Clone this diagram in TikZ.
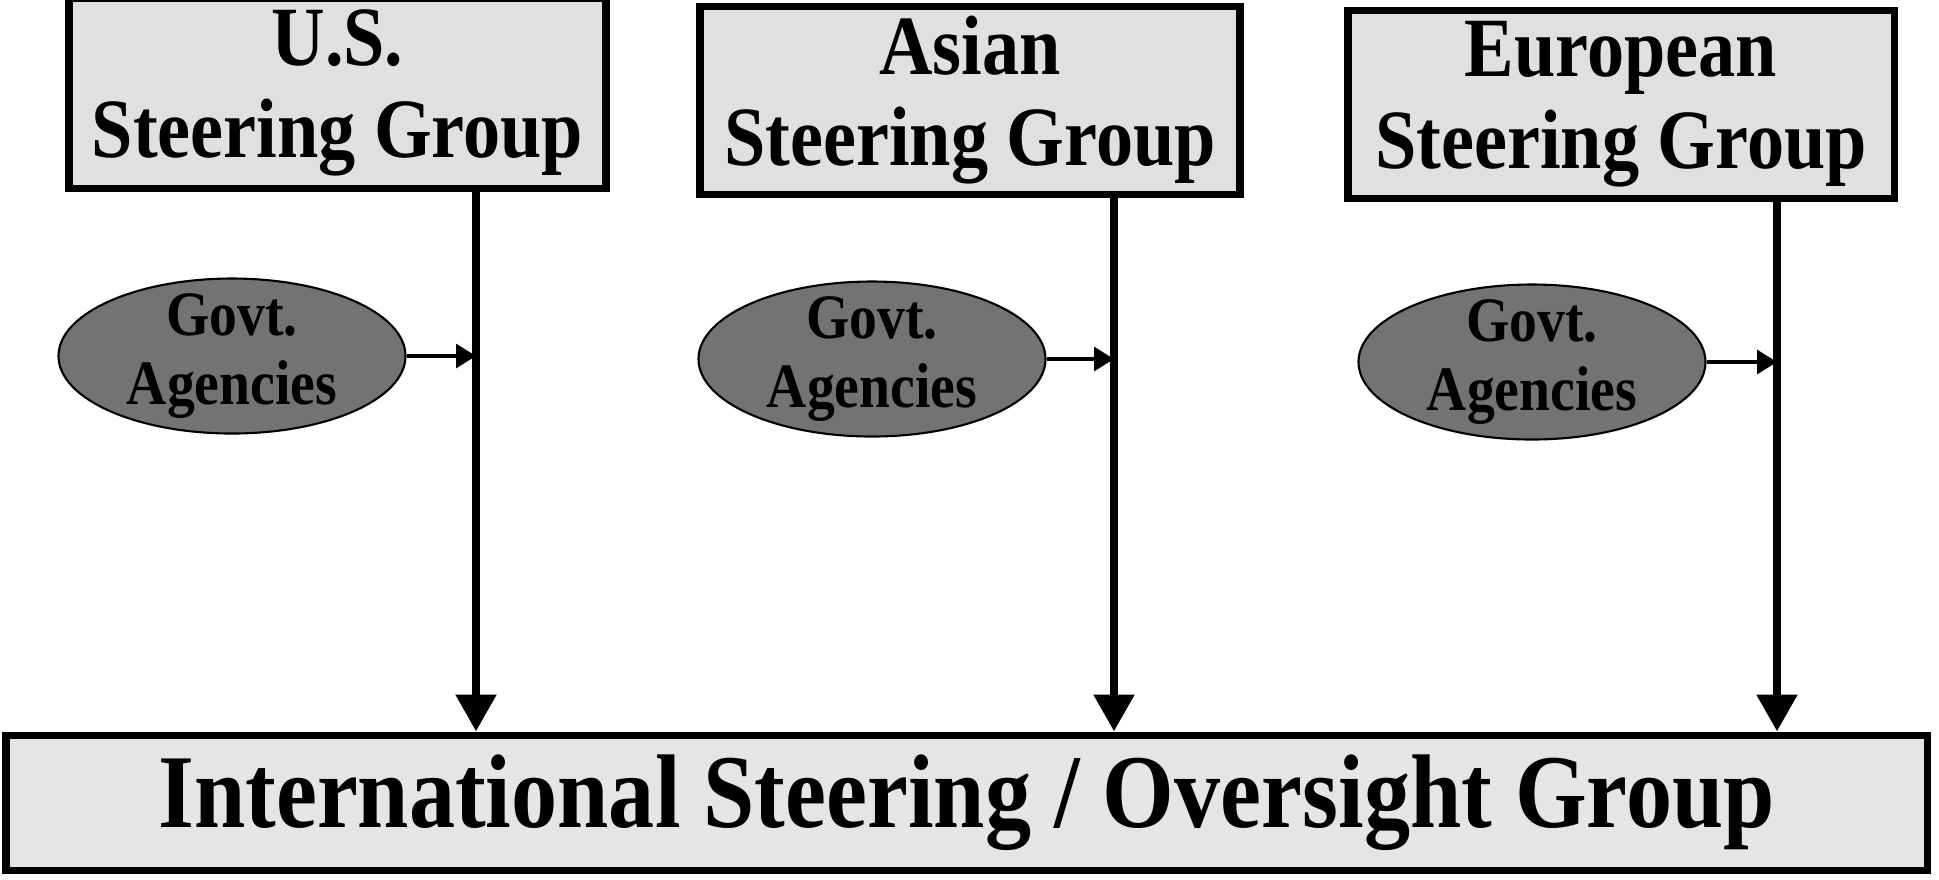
\documentclass[tikz,border=0pt]{standalone}
\usepackage{fontspec}
\setmainfont{Liberation Serif}
\newfontfamily\narrowserif[FakeStretch=0.88]{Liberation Serif}
\usepackage{tikz}
\usetikzlibrary{shapes.geometric,arrows.meta,positioning}

\begin{document}
\begin{tikzpicture}[
    group/.style = {rectangle, draw, line width=2pt, fill=black!12, align=center, font=\narrowserif\bfseries\fontsize{24}{26}\selectfont, minimum width=5.4cm, minimum height=1.88cm, inner sep=0pt},
    agency/.style = {ellipse, draw, line width=0.6pt, fill=black!55, align=center, font=\narrowserif\bfseries\fontsize{18}{19.5}\selectfont, minimum width=3.47cm, minimum height=1.55cm, inner sep=-1.5mm},
    top_group/.style = {rectangle, draw, line width=2pt, fill=black!10, font=\narrowserif\bfseries\fontsize{29.8}{32}\selectfont, minimum width=19.21cm, minimum height=1.35cm, inner sep=0pt},
    feed/.style = {line width=2.4pt, -{Triangle[width=3.9mm,length=3.7mm]}},
    input/.style = {line width=0.9pt, -{Triangle[width=2.4mm,length=2mm]}}
]
\useasboundingbox (0,0) rectangle (19.39,-8.79);

% Regional groups
\node [group, minimum width=5.37cm, minimum height=1.9cm] (us) at (3.375,-0.93) {U.S.\\Steering Group};
\node [group] (asia) at (9.70,-1.00) {Asian\\Steering Group};
\node [group, minimum width=5.46cm] (europe) at (16.21,-1.04) {European\\Steering Group};

% Agencies
\node [agency] (usag) at (2.32,-3.56) {Govt.\\Agencies};
\node [agency] (asiaag) at (8.72,-3.59) {Govt.\\Agencies};
\node [agency] (europeag) at (15.32,-3.62) {Govt.\\Agencies};

% International group
\node [top_group] (isog) at (9.665,-8.025) {International Steering / Oversight Group};

% Junctions on the feed lines
\coordinate (usj) at (4.76,-3.56);
\coordinate (asiaj) at (11.14,-3.59);
\coordinate (europej) at (17.77,-3.62);

% Arrows
\draw [feed] (usj |- us.south) -- (usj |- isog.north);
\draw [feed] (asiaj |- asia.south) -- (asiaj |- isog.north);
\draw [feed] (europej |- europe.south) -- (europej |- isog.north);
\draw [input] (usag.east) -- (usj);
\draw [input] (asiaag.east) -- (asiaj);
\draw [input] (europeag.east) -- (europej);

\end{tikzpicture}
\end{document}
